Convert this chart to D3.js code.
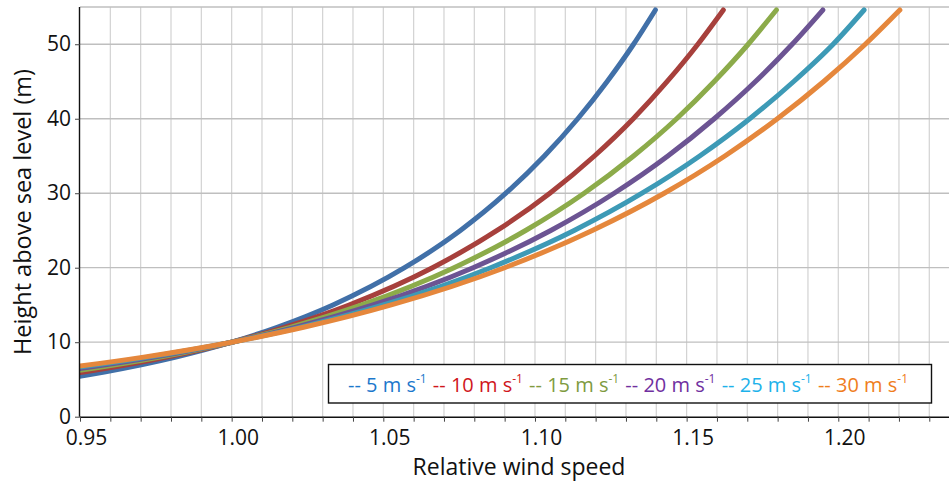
<!DOCTYPE html>
<html>
<head>
<meta charset="utf-8">
<script src="https://cdn.jsdelivr.net/npm/d3@7"></script>
<style>
  html, body { margin: 0; padding: 0; background: #fff; }
  svg { display: block; font-family: "Open Sans", "Noto Sans", sans-serif; }
</style>
</head>
<body>
<svg id="chart" width="949" height="484"></svg>
<script>
// ---- data ----
const heights = [4, 5, 6, 8, 10, 12, 15, 20, 25, 30, 35, 40, 45, 50, 54.6];
const speed5  = [0.9246, 0.9430, 0.9580, 0.9816, 1.0000, 1.0150, 1.0334, 1.0570, 1.0754, 1.0904, 1.1031, 1.1141, 1.1238, 1.1325, 1.1397];
const speed10 = [0.9125, 0.9338, 0.9512, 0.9787, 1.0000, 1.0174, 1.0387, 1.0662, 1.0875, 1.1049, 1.1196, 1.1324, 1.1436, 1.1537, 1.1621];
const speed15 = [0.9031, 0.9267, 0.9460, 0.9764, 1.0000, 1.0193, 1.0429, 1.0733, 1.0969, 1.1162, 1.1325, 1.1467, 1.1591, 1.1703, 1.1796];
const speed20 = [0.8948, 0.9204, 0.9414, 0.9744, 1.0000, 1.0209, 1.0466, 1.0796, 1.1052, 1.1261, 1.1438, 1.1591, 1.1727, 1.1848, 1.1949];
const speed25 = [0.8871, 0.9146, 0.9371, 0.9725, 1.0000, 1.0225, 1.0500, 1.0854, 1.1129, 1.1353, 1.1543, 1.1708, 1.1853, 1.1983, 1.2085];
const speed30 = [0.8811, 0.9100, 0.9337, 0.9710, 1.0000, 1.0237, 1.0526, 1.0900, 1.1189, 1.1426, 1.1626, 1.1799, 1.1952, 1.2089, 1.2203];
const seriesNames = ["5", "10", "15", "20", "25", "30"];
const seriesValues = [speed5, speed10, speed15, speed20, speed25, speed30];
const lineColors = ["#4170a8", "#a7403c", "#8cab4a", "#6c5493", "#3d9ab6", "#e5873c"];
const legendColors = ["#1c78cc", "#d0161c", "#7f9b3f", "#7030a0", "#1db2ea", "#ef7d1c"];
const xMajorTicks = [0.95, 1.00, 1.05, 1.10, 1.15, 1.20];
const xMinorTicks = d3.range(95, 124).map(v => v / 100);
const yTicks = [0, 10, 20, 30, 40, 50];
const xTitle = "Relative wind speed";
const yTitle = "Height above sea level (m)";

// ---- layout ----
const W = 949, H = 484;
const mLeft = 80, mRight = 949, mTop = 7, mBottom = 416.7;
const svg = d3.select("#chart");
svg.append("rect").attr("width", W).attr("height", H).attr("fill", "#fff");

const x = d3.scaleLinear().domain([0.95, 1.2365]).range([mLeft, mRight]);
const y = d3.scaleLinear().domain([0, 55]).range([mBottom, mTop]);

// gridlines
const grid = svg.append("g");
grid.selectAll("line.v").data(xMinorTicks.slice(1)).join("line")
  .attr("x1", d => x(d)).attr("x2", d => x(d))
  .attr("y1", mTop).attr("y2", mBottom)
  .attr("stroke", "#d2d2d2").attr("stroke-width", 1.2);
grid.selectAll("line.h").data(yTicks.slice(1).concat([55])).join("line")
  .attr("x1", mLeft).attr("x2", mRight)
  .attr("y1", d => y(d)).attr("y2", d => y(d))
  .attr("stroke", "#bfbfbf").attr("stroke-width", 1.3);

// clip
svg.append("clipPath").attr("id", "plotclip").append("rect")
  .attr("x", mLeft).attr("y", mTop - 5).attr("width", mRight - mLeft).attr("height", mBottom - mTop + 5);

const line = d3.line()
  .x(d => x(d[0])).y(d => y(d[1]))
  .curve(d3.curveMonotoneX);

const lines = svg.append("g").attr("clip-path", "url(#plotclip)");
seriesValues.forEach((vals, i) => {
  const pts = vals.map((v, j) => [v, heights[j]]);
  lines.append("path").datum(pts)
    .attr("d", line)
    .attr("fill", "none")
    .attr("stroke", lineColors[i])
    .attr("stroke-width", 5)
    .attr("stroke-linecap", "round")
    .attr("stroke-linejoin", "round");
});

// x axis: minor ticks
const xAxisMinor = d3.axisBottom(x).tickValues(xMinorTicks).tickSize(5).tickFormat("");
const gx = svg.append("g").attr("transform", `translate(0,${mBottom})`).call(xAxisMinor);
gx.select(".domain").attr("d", `M${mLeft},0.5H${mRight}`).attr("stroke", "#111").attr("stroke-width", 1.4);
gx.selectAll(".tick line").attr("stroke", "#444").attr("stroke-width", 1);

// x axis labels
const xAxisMajor = d3.axisBottom(x).tickValues(xMajorTicks).tickSize(0).tickFormat(d3.format(".2f"));
const gx2 = svg.append("g").attr("transform", `translate(0,${mBottom})`).call(xAxisMajor);
gx2.select(".domain").remove();
gx2.selectAll(".tick text")
  .attr("y", 28.5).attr("dy", 0).attr("dx", 6)
  .attr("font-size", 21).attr("fill", "#111")
  .attr("font-family", "'Open Sans', sans-serif");

// y axis
const yAxis = d3.axisLeft(y).tickValues(yTicks).tickSize(5).tickPadding(4).tickFormat(d3.format("d"));
const gy = svg.append("g").attr("transform", `translate(${mLeft},0)`).call(yAxis);
gy.select(".domain").attr("d", `M-0.5,${mTop}V${mBottom}`).attr("stroke", "#111").attr("stroke-width", 1.4);
gy.selectAll(".tick line").attr("stroke", "#444").attr("stroke-width", 1);
gy.selectAll(".tick text")
  .attr("font-size", 21).attr("fill", "#111")
  .attr("font-family", "'Open Sans', sans-serif");

// axis titles
svg.append("text")
  .attr("x", 519).attr("y", 474.5)
  .attr("text-anchor", "middle")
  .attr("font-size", 23).attr("fill", "#111")
  .text(xTitle);
svg.append("text")
  .attr("transform", "translate(31,212) rotate(-90)")
  .attr("text-anchor", "middle")
  .attr("font-size", 23.5).attr("fill", "#111")
  .text(yTitle);

// legend
const lg = svg.append("g");
lg.append("rect")
  .attr("x", 328.5).attr("y", 364.5).attr("width", 603).attr("height", 38.5)
  .attr("fill", "#fff").attr("stroke", "#111").attr("stroke-width", 1.4);
const items = seriesNames.map((name, i) => {
  const t = lg.append("text")
    .attr("y", 391.5)
    .attr("font-size", 20)
    .attr("fill", legendColors[i]);
  t.append("tspan").text(`-- ${name} m s`);
  t.append("tspan").attr("font-size", 12).attr("dy", -9).text("-1");
  return t;
});
const widths = items.map(t => t.node().getComputedTextLength());
const startX = 348, endX = 908;
const gap = (endX - startX - d3.sum(widths)) / (items.length - 1);
let cx = startX;
items.forEach((t, i) => { t.attr("x", cx); cx += widths[i] + gap; });
</script>
</body>
</html>
